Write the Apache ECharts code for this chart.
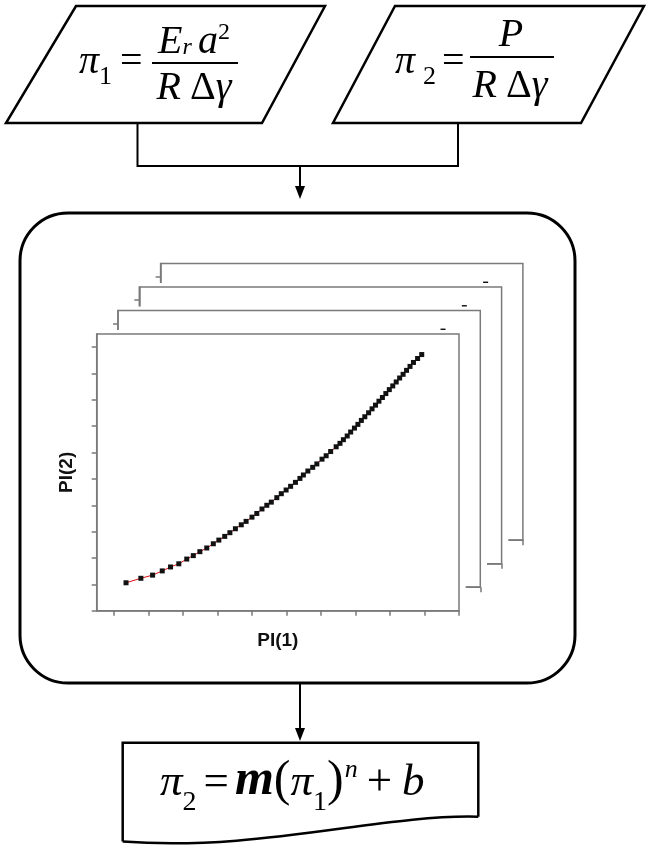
<!DOCTYPE html>
<html>
<head>
<meta charset="utf-8">
<script src="https://cdn.jsdelivr.net/npm/echarts@6/dist/echarts.min.js"></script>
<style>
  html, body { margin: 0; padding: 0; background: #fff; }
  #chart { width: 654px; height: 845px; }
</style>
</head>
<body>
<div id="chart"></div>
<script>
// Dimensionless groups: PI(1) on the horizontal axis, PI(2) on the vertical axis
const pi1 = [0.85, 1.28, 1.62, 1.90, 2.14, 2.38, 2.61, 2.80, 2.99, 3.19,
             3.38, 3.54, 3.71, 3.86, 4.02, 4.19, 4.33, 4.50, 4.64, 4.79,
             4.93, 5.06, 5.22, 5.35, 5.49, 5.62, 5.76, 5.89, 5.99, 6.12,
             6.26, 6.38, 6.53, 6.65, 6.78, 6.94, 7.05, 7.15, 7.26, 7.36,
             7.47, 7.57, 7.67, 7.77, 7.88, 7.98, 8.08, 8.18, 8.28, 8.38,
             8.48, 8.58, 8.68, 8.78, 8.88, 8.98, 9.08, 9.18, 9.30, 9.42];
const pi2 = [1.06, 1.23, 1.35, 1.51, 1.66, 1.78, 1.96, 2.09, 2.24, 2.38,
             2.54, 2.68, 2.82, 2.96, 3.11, 3.26, 3.39, 3.55, 3.69, 3.86,
             4.00, 4.12, 4.29, 4.44, 4.58, 4.72, 4.87, 5.02, 5.15, 5.30,
             5.44, 5.57, 5.75, 5.88, 6.04, 6.22, 6.35, 6.49, 6.63, 6.78,
             6.93, 7.07, 7.22, 7.36, 7.51, 7.66, 7.80, 7.95, 8.09, 8.24,
             8.39, 8.53, 8.68, 8.83, 8.97, 9.12, 9.27, 9.42, 9.57, 9.72];

// Unlabelled tick positions
const xTicks = [0.5, 1.5, 2.5, 3.5, 4.5, 5.5, 6.5, 7.5, 8.5, 9.5, 10.5];
const yTicks = [0, 1, 2, 3, 4, 5, 6, 7, 8, 9, 10];

const xName = 'PI(1)';
const yName = 'PI(2)';

const chart = echarts.init(document.getElementById('chart'), null, { renderer: 'canvas' });

// Stack of plot sheets, front sheet first, each one shifted up and right
const sheetCount = 4;
const base = { left: 96.7, top: 334, width: 362.3, height: 276.7 };
const shift = { dx: 21.3, dy: -23.5 };
const axisGray = '#7a7a7a';

const grids = [], xAxes = [], yAxes = [], series = [], sheetBgs = [];
const points = pi1.map((x, i) => [x, pi2[i]]);
const nameStyle = { fontFamily: 'Liberation Sans', fontWeight: 'bold', fontSize: 19, color: '#111' };

for (let k = 0; k < sheetCount; k++) {
  const z = (sheetCount - 1 - k) * 10;
  const left = base.left + shift.dx * k;
  const top = base.top + shift.dy * k;
  sheetBgs.push({
    type: 'rect', z: z + 1,
    shape: { x: left - 60, y: top - 4, width: base.width + 66.7, height: base.height + 54 },
    style: { fill: '#fff' }
  });
  grids.push({
    left: left, top: top, width: base.width, height: base.height,
    show: true, z: z + 2, backgroundColor: 'rgba(0,0,0,0)',
    borderColor: axisGray, borderWidth: 1.5
  });
  const front = k === 0;
  xAxes.push({
    type: 'value', gridIndex: k, min: 0, max: 10.5, z: z + 3,
    axisLine: { show: true, onZero: false, lineStyle: { color: axisGray, width: 1.5 } },
    axisTick: { show: true, customValues: xTicks, length: 5, inside: false,
                lineStyle: { color: axisGray, width: 1.5 } },
    axisLabel: { show: false }, splitLine: { show: false },
    name: front ? xName : '', nameLocation: 'middle', nameGap: 21, nameTextStyle: nameStyle
  });
  yAxes.push({
    type: 'value', gridIndex: k, min: 0, max: 10.5, z: z + 3,
    axisLine: { show: true, onZero: false, lineStyle: { color: axisGray, width: 1.5 } },
    axisTick: { show: true, customValues: yTicks, length: 5, inside: false,
                lineStyle: { color: axisGray, width: 1.5 } },
    axisLabel: { show: false }, splitLine: { show: false },
    name: front ? yName : '', nameLocation: 'middle', nameGap: 20, nameRotate: 90, nameTextStyle: nameStyle
  });
  series.push({
    type: 'line', xAxisIndex: k, yAxisIndex: k, z: z + 4,
    data: points, symbol: 'rect', symbolSize: 5, showSymbol: true,
    lineStyle: { color: '#d11', width: 1 },
    itemStyle: { color: '#111' },
    animation: false, silent: true
  });
}

// ---- Flowchart pieces ----
const ink = '#000';
const serif = 'Liberation Serif';
const measureCtx = document.createElement('canvas').getContext('2d');
function fontOf(size, it, b) {
  return (it ? 'italic ' : '') + (b ? 'bold ' : '') + size + 'px "' + serif + '"';
}
// text placed by its baseline
function glyph(str, x, baseline, size, it, b) {
  return {
    type: 'text', x: x, y: baseline - 0.33 * size, z: 50,
    style: { text: str, fill: ink, font: fontOf(size, it, b), align: 'left', verticalAlign: 'middle' }
  };
}
// lay a run of pieces left to right on a common baseline
function run(x0, baseline, pieces) {
  let x = x0;
  const out = [];
  pieces.forEach(p => {
    x += p.pad || 0;
    out.push(glyph(p.t, x, baseline - (p.rise || 0), p.size, p.it, p.b));
    measureCtx.font = fontOf(p.size, p.it, p.b);
    x += measureCtx.measureText(p.t).width + (p.after || 0);
  });
  return out;
}
// run centred on cx
function centredRun(cx, baseline, pieces) {
  let w = 0;
  pieces.forEach(p => {
    measureCtx.font = fontOf(p.size, p.it, p.b);
    w += (p.pad || 0) + measureCtx.measureText(p.t).width + (p.after || 0);
  });
  return run(cx - w / 2, baseline, pieces);
}
function line(pts, w) {
  return { type: 'polyline', z: 50, shape: { points: pts }, style: { stroke: ink, lineWidth: w, fill: null } };
}
function outline(pts, w) {
  return { type: 'polygon', z: 50, shape: { points: pts }, style: { fill: null, stroke: ink, lineWidth: w } };
}

const F = 40;
const flow = [].concat(
  // input parallelograms
  [outline([[76, 6], [325, 6], [262, 123], [6, 123]], 2.5),
   outline([[395, 6], [644, 6], [581, 123], [333, 123]], 2.5)],
  // π1 = Er a² / (R Δγ)
  run(79, 76, [
    { t: 'π', size: F, it: true },
    { t: '1', size: 26, rise: -10 },
    { t: '=', size: F, pad: 8 }
  ]),
  centredRun(194, 56, [
    { t: 'E', size: F, it: true },
    { t: 'r', size: 24, it: true, after: 6 },
    { t: 'a', size: F, it: true },
    { t: '2', size: 24, rise: 15 }
  ]),
  [line([[152, 63], [238, 63]], 2)],
  centredRun(194, 102, [
    { t: 'R', size: F, it: true, after: 9 },
    { t: 'Δ', size: F },
    { t: 'γ', size: F, it: true }
  ]),
  // π2 = P / (R Δγ)
  run(395, 76, [
    { t: 'π', size: F, it: true, after: 8 },
    { t: '2', size: 26, rise: -10 },
    { t: '=', size: F, pad: 6 }
  ]),
  centredRun(511, 49, [{ t: 'P', size: F, it: true }]),
  [line([[470, 57], [554, 57]], 2)],
  centredRun(510, 100, [
    { t: 'R', size: F, it: true, after: 9 },
    { t: 'Δ', size: F },
    { t: 'γ', size: F, it: true }
  ]),
  // connector and arrow into the fitting stage
  [line([[137.5, 123], [137.5, 166], [458, 166], [458, 123]], 2),
   line([[300, 166], [300, 190]], 2),
   { type: 'polygon', z: 50, shape: { points: [[295, 186], [305, 186], [300, 199]] }, style: { fill: ink } },
   // rounded process box around the plot stack
   { type: 'rect', z: -5, shape: { x: 20, y: 213, width: 555, height: 470, r: 48 },
     style: { fill: null, stroke: ink, lineWidth: 3 } },
   // arrow to the result
   line([[300, 683], [300, 730]], 2),
   { type: 'polygon', z: 50, shape: { points: [[295, 728], [305, 728], [300, 741]] }, style: { fill: ink } },
   // document shape with wavy bottom
   line([[122.7, 841.5], [122.7, 742.7], [478.3, 742.7], [478.3, 816.7]], 2.5),
   { type: 'bezierCurve', z: 50,
     shape: { x1: 478.3, y1: 816.7, cpx1: 380, cpy1: 814, cpx2: 260, cpy2: 852, x2: 122.7, y2: 841.5 },
     style: { fill: null, stroke: ink, lineWidth: 2.5 } }],
  // π2 = m(π1)^n + b
  run(160, 798, [
    { t: 'π', size: 45, it: true },
    { t: '2', size: 28, rise: -14 },
    { t: '=', size: 45, pad: 7 },
    { t: 'm', size: 50, it: true, b: true, pad: 6 },
    { t: '(', size: 50 },
    { t: 'π', size: 45, it: true },
    { t: '1', size: 28, rise: -14 },
    { t: ')', size: 50 },
    { t: 'n', size: 26, it: true, rise: 19, pad: 1 },
    { t: '+', size: 45, pad: 9 },
    { t: 'b', size: 45, it: true, pad: 10 }
  ])
);

chart.setOption({
  animation: false,
  backgroundColor: '#fff',
  grid: grids,
  xAxis: xAxes,
  yAxis: yAxes,
  series: series,
  graphic: { elements: sheetBgs.concat(flow) }
});
</script>
</body>
</html>
